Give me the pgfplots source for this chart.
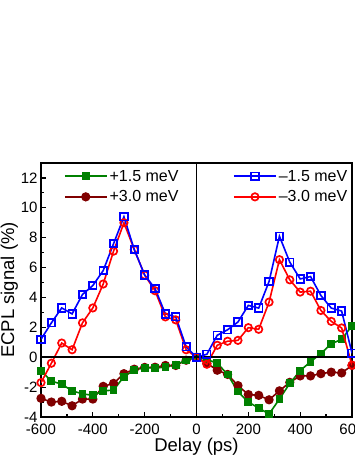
\documentclass[border=0pt]{standalone}
\usepackage{pgfplots}
\pgfplotsset{compat=1.18}
\usepackage{fontspec}
\setmainfont{Liberation Sans}

\definecolor{cgreen}{RGB}{0,128,0}
\definecolor{cdred}{RGB}{128,0,0}

% left half (positive detuning)
\pgfplotstableread{
x y
-600 -0.9
-560 -1.6
-520 -1.8
-480 -2.25
-440 -2.45
-400 -2.55
-360 -2.25
-320 -2.2
-280 -1.3
-240 -0.85
-200 -0.7
-160 -0.72
-120 -0.66
-80 -0.5
-40 -0.2
0 0.0
40 -0.15
80 -0.4
120 -1.15
160 -2.3
200 -3.0
240 -3.4
280 -3.8
320 -2.8
360 -1.75
400 -0.9
440 -0.3
480 0.25
520 0.9
560 1.2
600 2.1
}\greenA

\pgfplotstableread{
x y
-600 -2.75
-560 -3.0
-520 -2.95
-480 -3.25
-440 -2.8
-400 -2.8
-360 -1.95
-320 -1.75
-280 -1.1
-240 -0.8
-200 -0.68
-160 -0.67
-120 -0.55
-80 -0.55
-40 -0.2
0 0.0
40 -0.4
80 -0.87
120 -1.15
160 -1.9
200 -2.5
240 -2.55
280 -2.85
320 -2.25
360 -1.68
400 -1.25
440 -1.25
480 -1.1
520 -1.0
560 -1.05
600 -0.55
}\dredB

\pgfplotstableread{
x y
-600 1.2
-560 2.3
-520 3.3
-480 2.9
-440 4.2
-400 4.8
-360 5.8
-320 7.6
-280 9.4
-240 7.2
-200 5.5
-160 4.6
-120 2.9
-80 2.7
-40 0.7
0 0.0
40 0.2
80 1.47
120 1.84
160 2.36
200 3.47
240 3.29
280 5.07
320 8.1
360 6.36
400 5.24
440 5.4
480 4.13
520 3.29
560 3.09
600 0.27
}\blueC

\pgfplotstableread{
x y
-600 -1.7
-560 -0.4
-520 0.95
-480 0.5
-440 2.3
-400 3.3
-360 4.9
-320 7.1
-280 9.0
-240 7.2
-200 5.5
-160 4.45
-120 2.7
-80 2.5
-40 0.5
0 0.0
40 -0.47
80 0.8
120 1.07
160 1.13
200 1.98
240 1.87
280 3.69
320 6.53
360 5.18
400 4.36
440 4.42
480 3.13
520 2.4
560 1.96
600 -0.53
}\redD

\pgfplotsset{
  every axis/.append style={
    scale only axis, width=311pt, height=254pt,
    xmin=-600, xmax=600, ymin=-4, ymax=13,
  },
  legimg/.style={legend image code/.code={
    \draw[mark repeat=2,mark phase=2] plot coordinates {(0pt,0pt) (21pt,0pt) (42pt,0pt)};}},
}

\begin{document}
\begin{tikzpicture}
\begin{axis}[
  name=main,
  axis line style={line width=1.9pt},
  tick style={line width=1.2pt, black},
  tick align=inside, tick pos=left,
  major tick length=5pt, minor tick length=3pt,
  xtick={-600,-400,...,600}, ytick={-4,-2,...,12},
  minor x tick num=1, minor y tick num=1,
  tick label style={font=\fontsize{15}{17}\selectfont},
  xticklabel style={yshift=-3pt},
  /pgf/number format/assume math mode=true,
  label style={font=\fontsize{18.5}{20}\selectfont},
  xlabel={Delay (ps)}, ylabel={ECPL signal (\%)},
  xlabel style={yshift=3pt}, ylabel style={yshift=-4pt},
  legend style={draw=none, fill=none, at={(0.07,0.985)}, anchor=north west,
    font=\fontsize{16}{18}\selectfont, row sep=4pt, inner sep=1pt},
  legend cell align=left, reverse legend, legimg,
]
\addplot[cdred, line width=1.6pt, mark=*, mark size=3.8pt, mark options={solid, fill=cdred, draw=cdred}] table {\dredB};
\addlegendentry{+3.0 meV}
\addplot[cgreen, line width=1.6pt, mark=square*, mark size=3.1pt, mark options={solid, fill=cgreen, draw=cgreen}] table {\greenA};
\addlegendentry{+1.5 meV}
\end{axis}
\begin{axis}[
  hide axis,
  legend style={draw=none, fill=none, at={(0.995,0.985)}, anchor=north east,
    font=\fontsize{16}{18}\selectfont, row sep=4pt, inner sep=1pt},
  legend cell align=left, reverse legend, legimg,
]
\addplot[red, line width=1.6pt, mark=o, mark size=3.7pt, mark options={solid, line width=1.7pt, fill=white}] table {\redD};
\addlegendentry{–3.0 meV}
\addplot[blue, line width=1.6pt, mark=square, mark size=3.7pt, mark options={solid, line width=1.8pt, fill=white}] table {\blueC};
\addlegendentry{–1.5 meV}
\addplot[black, line width=1.9pt, forget plot] coordinates {(-600,0) (600,0)};
\addplot[black, line width=1.9pt, forget plot] coordinates {(0,-4) (0,13)};
\end{axis}
\pgfresetboundingbox
\path ([shift={(-41pt,-41pt)}]main.south west) rectangle ([shift={(2pt,163pt)}]main.north east);
\end{tikzpicture}
\end{document}
